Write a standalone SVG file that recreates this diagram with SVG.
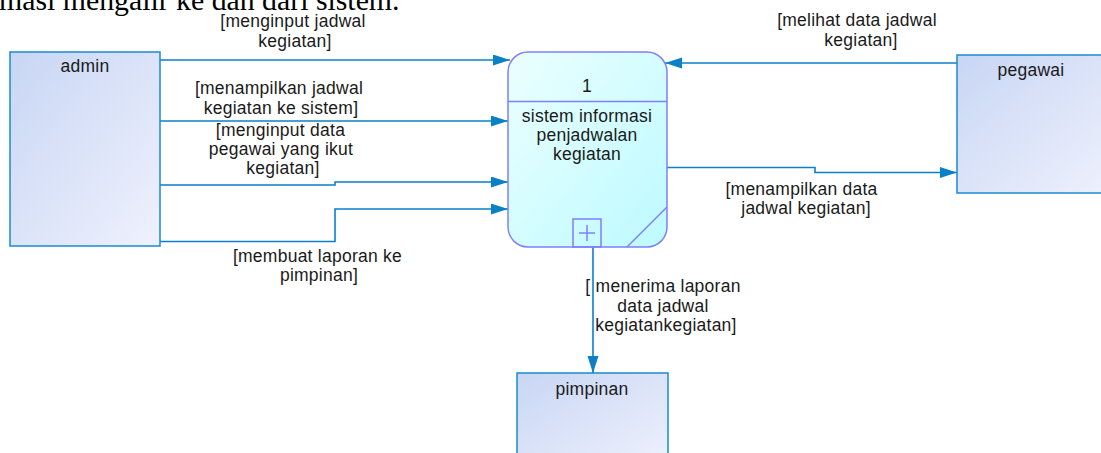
<svg xmlns="http://www.w3.org/2000/svg" width="1101" height="453" viewBox="0 0 1101 453">
<style>
.lbl{font-family:"Liberation Sans",Arial,sans-serif;font-size:17.5px;letter-spacing:0.25px;fill:#1a1a1a;text-anchor:middle}
.ent{stroke:#1a8ad0;stroke-width:1.5;fill:url(#gEnt)}
.proc{stroke:#7f7fff;stroke-width:1.5}
.conn{fill:none;stroke:#0a80c6;stroke-width:1.6;marker-end:url(#arr)}
</style>
<defs>
<linearGradient id="gEnt" x1="0" y1="0" x2="1" y2="1">
<stop offset="0" stop-color="#c8d6f4"/>
<stop offset="1" stop-color="#eff1fd"/>
</linearGradient>
<linearGradient id="gProc" x1="0" y1="0" x2="1" y2="1">
<stop offset="0" stop-color="#ecffff"/>
<stop offset="1" stop-color="#bcfaff"/>
</linearGradient>
<marker id="arr" markerUnits="userSpaceOnUse" markerWidth="18" markerHeight="12" refX="17" refY="5.5" orient="auto">
<path d="M0,0 L17,5.5 L0,11 z" fill="#0a80c6"/>
</marker>
</defs>
<text x="-1" y="10" style="font-family:'Liberation Serif','Times New Roman',serif;font-size:29.8px;fill:#000">masi mengalir ke dan dari sistem.</text>
<g id="connectors">
<path class="conn" d="M160,60 L510,60"/>
<path class="conn" d="M160,121 L508,121"/>
<path class="conn" d="M160,185 L335,185 L335,182 L508,182"/>
<path class="conn" d="M160,241.5 L335,241.5 L335,209 L508,209"/>
<path class="conn" d="M957,63 L665,63"/>
<path class="conn" d="M667,167.5 L815,167.5 L815,172.5 L957,172.5"/>
<path class="conn" d="M593,247 L593,373"/>
<text class="lbl"><tspan x="293" y="26.5">[menginput jadwal</tspan><tspan x="295" y="46.5">kegiatan]</tspan></text>
<text class="lbl"><tspan x="279" y="93.5">[menampilkan jadwal</tspan><tspan x="281" y="113.5">kegiatan ke sistem]</tspan></text>
<text class="lbl"><tspan x="280.5" y="136">[menginput data</tspan><tspan x="281" y="155">pegawai yang ikut</tspan><tspan x="283" y="174">kegiatan]</tspan></text>
<text class="lbl"><tspan x="317.5" y="262">[membuat laporan ke</tspan><tspan x="319" y="281">pimpinan]</tspan></text>
<text class="lbl"><tspan x="857" y="25.5">[melihat data jadwal</tspan><tspan x="861" y="45.5">kegiatan]</tspan></text>
<text class="lbl"><tspan x="801.5" y="195">[menampilkan data</tspan><tspan x="806" y="214">jadwal kegiatan]</tspan></text>
<text class="lbl"><tspan x="663" y="292">[ menerima laporan</tspan><tspan x="663" y="312">data jadwal</tspan><tspan x="666" y="331">kegiatankegiatan]</tspan></text>
</g>
<g id="admin">
<rect class="ent" x="10" y="52" width="150" height="194"/>
<text class="lbl" x="85" y="72">admin</text>
</g>
<g id="proses1">
<rect class="proc" x="508" y="52" width="159" height="195" rx="20" ry="20" fill="url(#gProc)"/>
<line class="proc" x1="508" y1="101.5" x2="667" y2="101.5"/>
<line class="proc" x1="627" y1="247" x2="667" y2="207"/>
<rect class="proc" x="573" y="219" width="28" height="28" fill="none"/>
<path class="proc" d="M579,233 H595 M587,225 V241" fill="none"/>
<text class="lbl" x="587" y="92">1</text>
<text class="lbl"><tspan x="587" y="122">sistem informasi</tspan><tspan x="587" y="141">penjadwalan</tspan><tspan x="587" y="160">kegiatan</tspan></text>
</g>
<g id="pegawai">
<rect class="ent" x="957" y="55" width="160" height="138"/>
<text class="lbl" x="1031" y="76">pegawai</text>
</g>
<g id="pimpinan">
<rect class="ent" x="517" y="373" width="151" height="95"/>
<text class="lbl" x="592" y="395">pimpinan</text>
</g>
</svg>
